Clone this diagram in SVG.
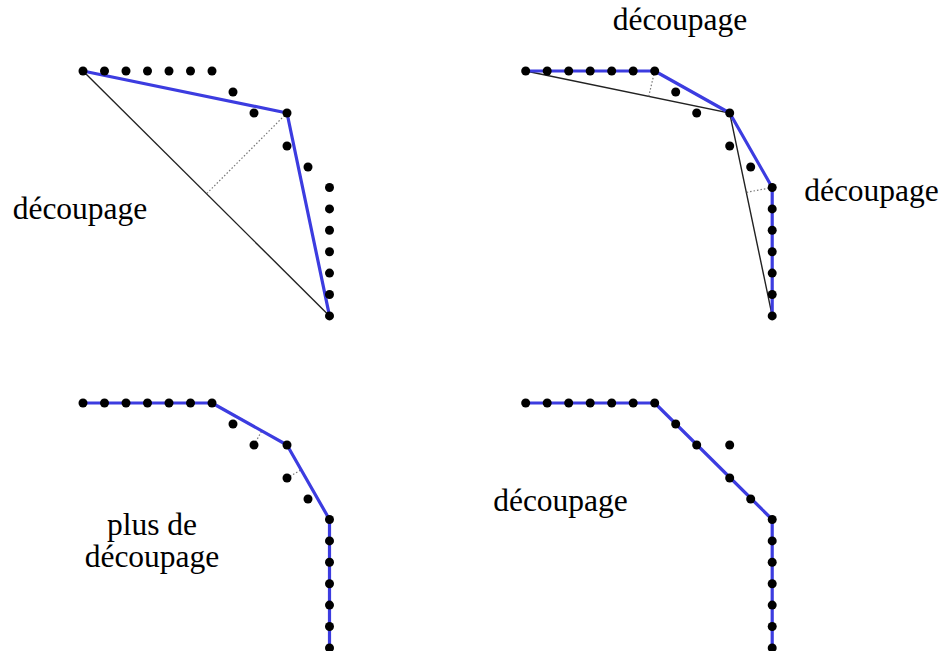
<svg xmlns="http://www.w3.org/2000/svg" xmlns:xlink="http://www.w3.org/1999/xlink" width="944" height="651" viewBox="0 0 944 651">
<style>
.lbl{font-family:"Liberation Serif","Times New Roman",serif;font-size:31.5px;fill:#000;text-anchor:middle}
.blue{fill:none;stroke:#3c3ce0;stroke-width:3.2;stroke-linejoin:round;stroke-linecap:round}
.chord{fill:none;stroke:#222;stroke-width:1.4}
.perp{fill:none;stroke:#777;stroke-width:1.2;stroke-dasharray:1.5 2}
.dot{fill:#000}
</style>
<defs>
<g id="pts">
<circle class="dot" cx="83" cy="71" r="4.5"/>
<circle class="dot" cx="104.5" cy="71" r="4.5"/>
<circle class="dot" cx="126" cy="71" r="4.5"/>
<circle class="dot" cx="147.5" cy="71" r="4.5"/>
<circle class="dot" cx="169" cy="71" r="4.5"/>
<circle class="dot" cx="190.5" cy="71" r="4.5"/>
<circle class="dot" cx="212" cy="71" r="4.5"/>
<circle class="dot" cx="233" cy="92" r="4.5"/>
<circle class="dot" cx="254" cy="113" r="4.5"/>
<circle class="dot" cx="287" cy="113" r="4.5"/>
<circle class="dot" cx="287" cy="146" r="4.5"/>
<circle class="dot" cx="308" cy="167" r="4.5"/>
<circle class="dot" cx="329.5" cy="187.5" r="4.5"/>
<circle class="dot" cx="329.5" cy="208.9" r="4.5"/>
<circle class="dot" cx="329.5" cy="230.3" r="4.5"/>
<circle class="dot" cx="329.5" cy="251.7" r="4.5"/>
<circle class="dot" cx="329.5" cy="273.1" r="4.5"/>
<circle class="dot" cx="329.5" cy="294.5" r="4.5"/>
<circle class="dot" cx="329.5" cy="315.9" r="4.5"/>
</g>
</defs>
<rect width="944" height="651" fill="#fff"/>

<g id="panel1">
  <g id="connectors1">
    <line class="chord" x1="83" y1="71" x2="329.5" y2="315.9"/>
    <line class="perp" x1="287" y1="113" x2="206.4" y2="193.9"/>
    <polyline class="blue" points="83,71 287,113 329.5,315.9"/>
  </g>
  <use id="points1" xlink:href="#pts" href="#pts"/>
  <text id="label1" class="lbl" x="80" y="219">découpage</text>
</g>

<g id="panel2" transform="translate(442.7,0)">
  <g id="connectors2">
    <polyline class="chord" points="83,71 287,113 329.5,315.9"/>
    <line class="perp" x1="212" y1="71" x2="206" y2="96.4"/>
    <line class="perp" x1="329.5" y1="187.5" x2="303" y2="192.5"/>
    <polyline class="blue" points="83,71 212,71 287,113 329.5,187.5 329.5,315.9"/>
  </g>
  <use id="points2" xlink:href="#pts" href="#pts"/>
</g>
<text id="label2" class="lbl" x="680" y="30">découpage</text>
<text id="label3" class="lbl" x="871.5" y="201">découpage</text>

<g id="panel3" transform="translate(0,332)">
  <g id="connectors3">
    <line class="perp" x1="254" y1="113" x2="261.4" y2="99.6"/>
    <line class="perp" x1="287" y1="146" x2="300.9" y2="137.9"/>
    <polyline class="blue" points="83,71 212,71 287,113 329.5,187.5 329.5,315.9"/>
  </g>
  <use id="points3" xlink:href="#pts" href="#pts"/>
  <text id="label4" class="lbl" x="152" y="203"><tspan x="152" y="203">plus de</tspan><tspan x="152" y="235">découpage</tspan></text>
</g>

<g id="panel4" transform="translate(442.7,332)">
  <g id="connectors4">
    <polyline class="blue" points="83,71 212,71 329.5,187.5 329.5,315.9"/>
  </g>
  <use id="points4" xlink:href="#pts" href="#pts"/>
</g>
<text id="label5" class="lbl" x="560.5" y="511">découpage</text>
</svg>
